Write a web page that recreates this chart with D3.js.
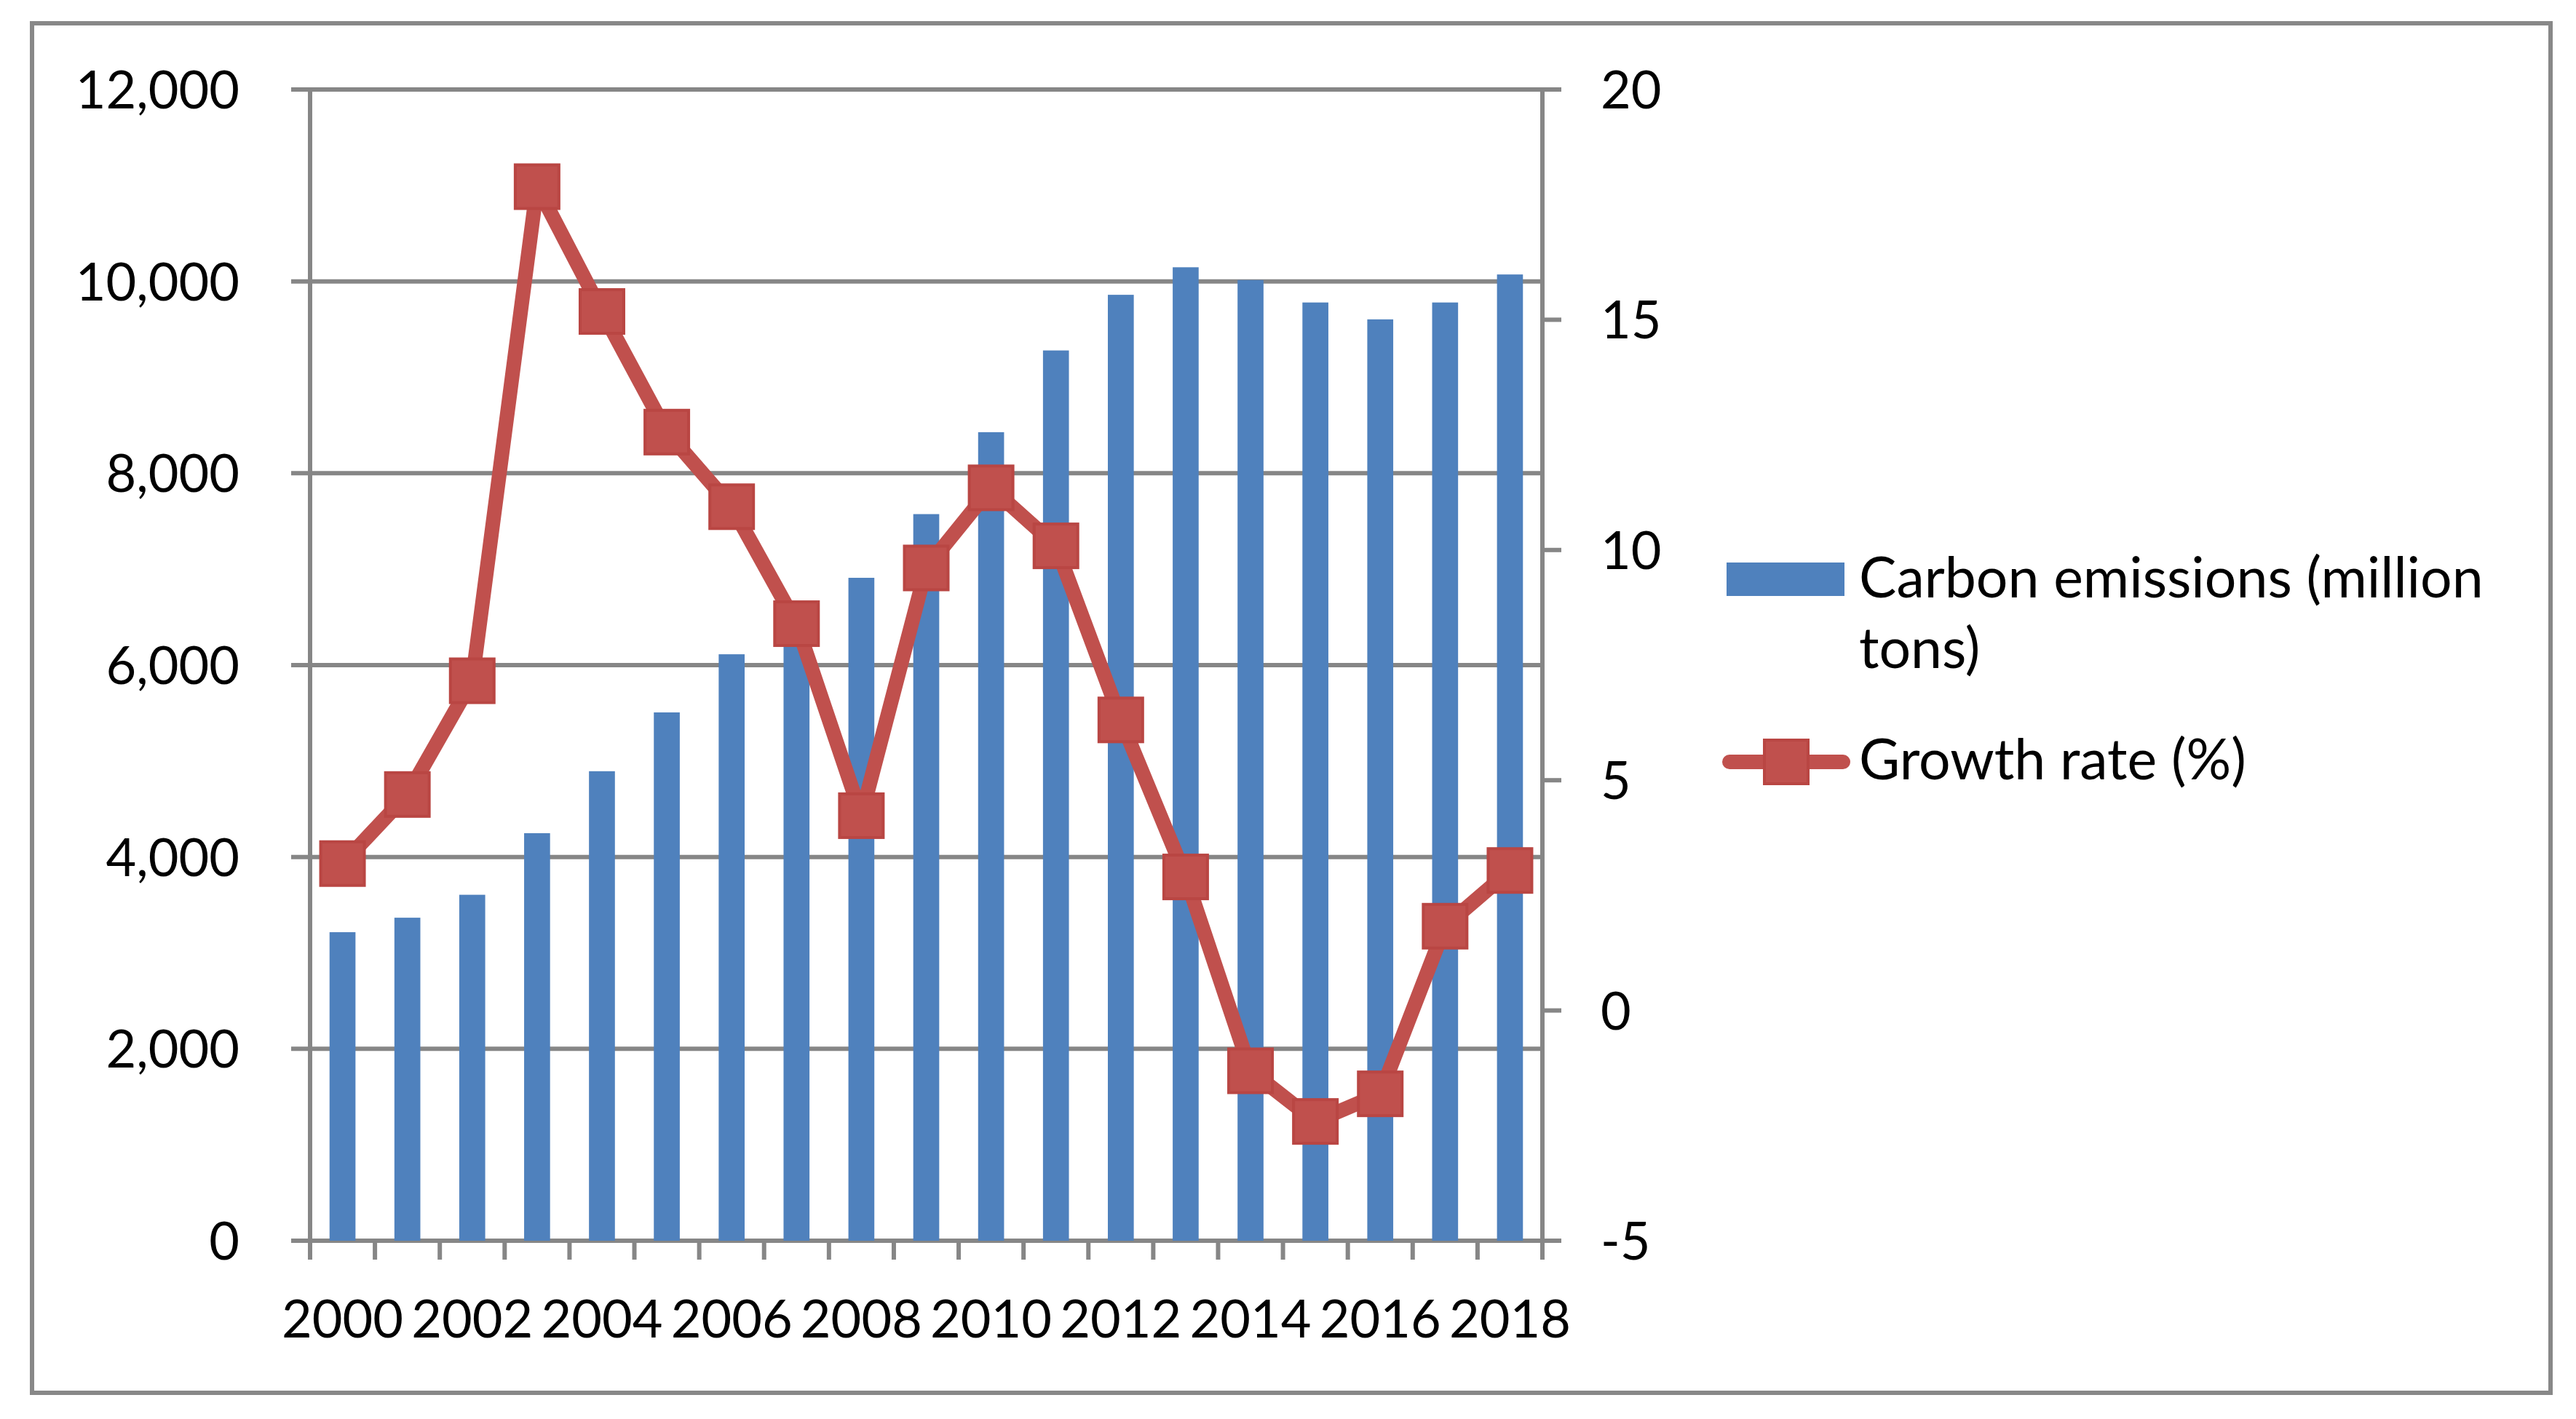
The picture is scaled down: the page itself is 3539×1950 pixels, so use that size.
<!DOCTYPE html>
<html>
<head>
<meta charset="utf-8">
<script src="https://cdn.jsdelivr.net/npm/d3@7"></script>
<style>
  html, body { margin: 0; padding: 0; background: #fff; }
  svg { display: block; }
  text { font-family: Lato, "Open Sans", sans-serif; fill: #000; }
</style>
</head>
<body>
<svg id="chart" width="3539" height="1950"></svg>
<script>
// ---- data ----
const years = ["2000","2001","2002","2003","2004","2005","2006","2007","2008","2009",
               "2010","2011","2012","2013","2014","2015","2016","2017","2018"];
const emissions = [3216, 3367, 3606, 4248, 4894, 5507, 6113, 6560, 6910, 7574,
                   8428, 9280, 9860, 10147, 10014, 9780, 9604, 9780, 10072];
const growth = [3.19, 4.69, 7.16, 17.89, 15.18, 12.56, 10.94, 8.40, 4.23, 9.61,
                11.35, 10.09, 6.31, 2.90, -1.31, -2.41, -1.81, 1.83, 3.04];
const leftTicks = [0, 2000, 4000, 6000, 8000, 10000, 12000];
const rightTicks = [-5, 0, 5, 10, 15, 20];
const xLabelYears = ["2000","2002","2004","2006","2008","2010","2012","2014","2016","2018"];
const seriesNames = ["Carbon emissions (million", "tons)", "Growth rate (%)"];

// ---- layout ----
const W = 3539, H = 1950;
const plot = { left: 426, right: 2119, top: 123, bottom: 1705 };
const tickLen = 26;
const gridColor = "#868686";
const barColor = "#4F81BD";
const lineColor = "#C0504D";
const fontSize = 72;
const legendFontSize = 77;

const svg = d3.select("#chart");

// outer border
svg.append("rect")
  .attr("x", 44).attr("y", 32).attr("width", 3504 - 44).attr("height", 1914 - 32)
  .attr("fill", "#fff").attr("stroke", "#888888").attr("stroke-width", 6);

const x = d3.scaleBand().domain(years).range([plot.left, plot.right]).paddingInner(0).paddingOuter(0);
const yL = d3.scaleLinear().domain([0, 12000]).range([plot.bottom, plot.top]);
const yR = d3.scaleLinear().domain([-5, 20]).range([plot.bottom, plot.top]);

// gridlines (left axis)
svg.append("g").selectAll("line").data(leftTicks).join("line")
  .attr("x1", plot.left - tickLen).attr("x2", plot.right)
  .attr("y1", d => yL(d)).attr("y2", d => yL(d))
  .attr("stroke", gridColor).attr("stroke-width", 6);

// left axis line
svg.append("line")
  .attr("x1", plot.left).attr("x2", plot.left)
  .attr("y1", plot.top).attr("y2", plot.bottom + tickLen)
  .attr("stroke", gridColor).attr("stroke-width", 6);

// right axis line + ticks
svg.append("line")
  .attr("x1", plot.right).attr("x2", plot.right)
  .attr("y1", plot.top).attr("y2", plot.bottom + tickLen)
  .attr("stroke", gridColor).attr("stroke-width", 6);
svg.append("g").selectAll("line").data(rightTicks).join("line")
  .attr("x1", plot.right).attr("x2", plot.right + tickLen)
  .attr("y1", d => yR(d)).attr("y2", d => yR(d))
  .attr("stroke", gridColor).attr("stroke-width", 6);

// x axis ticks at category boundaries
const boundaries = years.map(y => x(y)).concat([x(years[years.length - 1]) + x.bandwidth()]);
svg.append("g").selectAll("line").data(boundaries).join("line")
  .attr("x1", d => d).attr("x2", d => d)
  .attr("y1", plot.bottom).attr("y2", plot.bottom + tickLen)
  .attr("stroke", gridColor).attr("stroke-width", 6);

// bars
const barW = x.bandwidth() / 2.5;
svg.append("g").selectAll("rect").data(years).join("rect")
  .attr("x", d => x(d) + (x.bandwidth() - barW) / 2)
  .attr("width", barW)
  .attr("y", (d, i) => yL(emissions[i]))
  .attr("height", (d, i) => yL(0) - yL(emissions[i]))
  .attr("fill", barColor);

// growth line
const line = d3.line()
  .x((d, i) => x(years[i]) + x.bandwidth() / 2)
  .y(d => yR(d));
svg.append("path").datum(growth)
  .attr("d", line)
  .attr("fill", "none").attr("stroke", lineColor)
  .attr("stroke-width", 20).attr("stroke-linejoin", "round").attr("stroke-linecap", "round");

const mk = 60;
svg.append("g").selectAll("rect").data(growth).join("rect")
  .attr("x", (d, i) => x(years[i]) + x.bandwidth() / 2 - mk / 2)
  .attr("y", d => yR(d) - mk / 2)
  .attr("width", mk).attr("height", mk)
  .attr("fill", lineColor).attr("stroke", "#B94643").attr("stroke-width", 4);

// left labels
svg.append("g").selectAll("text").data(leftTicks).join("text")
  .attr("x", 329).attr("y", d => yL(d))
  .attr("dy", "0.36em")
  .attr("text-anchor", "end")
  .attr("font-size", fontSize)
  .text(d => d3.format(",")(d));

// right labels
svg.append("g").selectAll("text").data(rightTicks).join("text")
  .attr("x", 2199).attr("y", d => yR(d))
  .attr("dy", "0.36em")
  .attr("text-anchor", "start")
  .attr("font-size", fontSize)
  .text(d => d);

// x labels
svg.append("g").selectAll("text").data(xLabelYears).join("text")
  .attr("x", d => x(d) + x.bandwidth() / 2)
  .attr("y", 1838)
  .attr("text-anchor", "middle")
  .attr("font-size", fontSize)
  .text(d => d);

// legend
const lg = svg.append("g");
lg.append("rect").attr("x", 2372).attr("y", 773).attr("width", 162).attr("height", 46).attr("fill", barColor);
lg.append("text").attr("x", 2554).attr("y", 821).attr("font-size", legendFontSize).text(seriesNames[0]);
lg.append("text").attr("x", 2554).attr("y", 918).attr("font-size", legendFontSize).text(seriesNames[1]);
lg.append("line").attr("x1", 2376).attr("x2", 2532).attr("y1", 1047).attr("y2", 1047)
  .attr("stroke", lineColor).attr("stroke-width", 20).attr("stroke-linecap", "round");
lg.append("rect").attr("x", 2454 - mk / 2).attr("y", 1047 - mk / 2).attr("width", mk).attr("height", mk)
  .attr("fill", lineColor).attr("stroke", "#B94643").attr("stroke-width", 4);
lg.append("text").attr("x", 2554).attr("y", 1071).attr("font-size", legendFontSize).text(seriesNames[2]);
</script>
</body>
</html>
